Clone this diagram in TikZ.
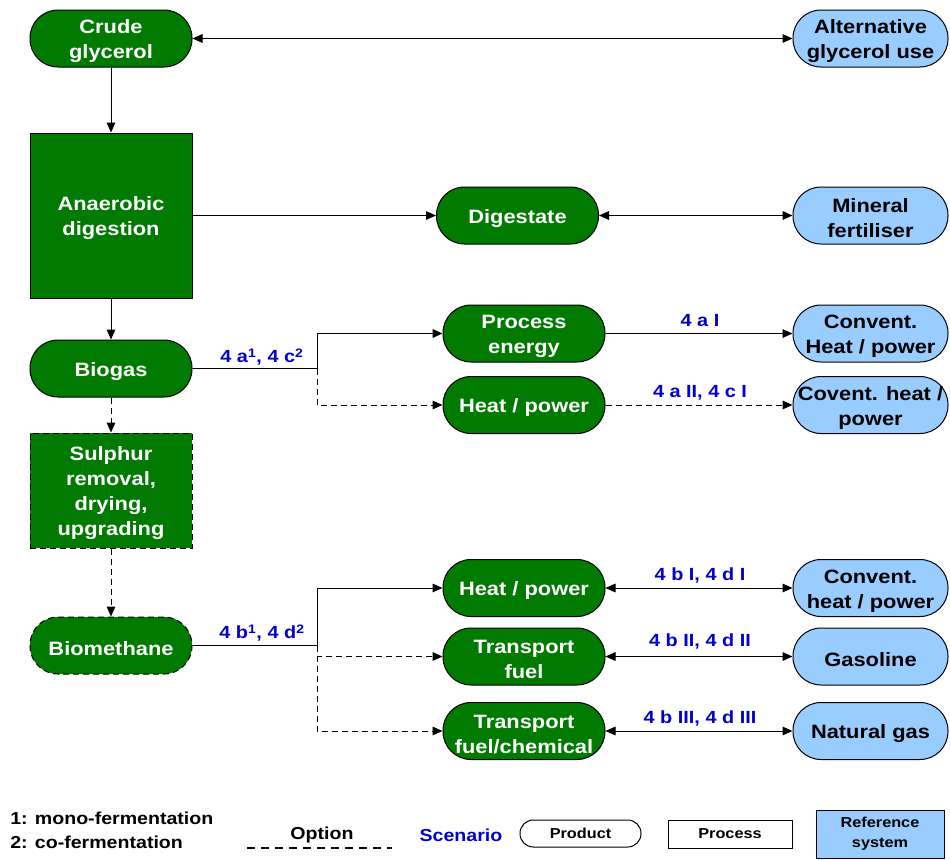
\documentclass[tikz,border=0pt]{standalone}
\usepackage{fontspec}
\setmainfont{Liberation Sans}[FakeStretch=1.13]
\usetikzlibrary{arrows.meta}
\definecolor{procgreen}{RGB}{0,122,0}
\definecolor{refblue}{RGB}{153,204,255}
\definecolor{scenblue}{RGB}{0,0,204}
% extra head room on the first line, so box texts sit slightly lower
\newcommand{\topgap}{\rule{0pt}{15pt}}
\begin{document}
\begin{tikzpicture}[x=0.75pt,y=-0.75pt,
  every node/.style={font=\fontsize{14.5}{18.75}\selectfont\bfseries, align=center, inner sep=0pt},
  prod/.style={draw=black, line width=0.75pt, fill=procgreen, text=white, rounded corners=21pt,
               minimum width=121.5pt, minimum height=42.75pt},
  proc/.style={draw=black, line width=0.75pt, fill=procgreen, text=white, minimum width=121.5pt},
  refs/.style={draw=black, line width=0.75pt, fill=refblue, rounded corners=21pt,
               minimum width=116.25pt, minimum height=42.75pt},
  lab/.style={text=scenblue, font=\fontsize{13.2}{15}\selectfont\bfseries},
  legtxt/.style={font=\fontsize{13}{15}\selectfont\bfseries},
  opt/.style={dash pattern=on 4.5pt off 3pt},
  flow/.style={line width=0.75pt, -{Triangle[length=7.5pt,width=6.5pt]}},
  both/.style={line width=0.75pt, {Triangle[length=7.5pt,width=6.5pt]}-{Triangle[length=7.5pt,width=6.5pt]}}
]
\useasboundingbox (0,0) rectangle (950,860);

% main chain
\node[prod] (crude) at (111,38.5) {\topgap Crude\\glycerol};
\node[refs] (alt) at (870.5,38.5) {\topgap Alternative\\glycerol use};
\node[proc, minimum height=123.75pt] (ad) at (111,215.5) {\topgap Anaerobic\\digestion};
\node[prod] (dig) at (517.5,215.5) {\topgap Digestate};
\node[refs] (min) at (870.5,215.5) {\topgap Mineral\\fertiliser};
\node[prod] (biogas) at (111,368.5) {\topgap Biogas};
\node[prod] (pe) at (524,333.5) {\topgap Process\\energy};
\node[prod] (hp1) at (524,405) {\topgap Heat / power};
\node[refs] (chp1) at (870.5,333.5) {\topgap Convent.\\Heat / power};
\node[refs] (chp2) at (870.5,405) {\topgap Covent. heat /\\power};
\node[proc, opt, minimum height=86.25pt] (sul) at (111,490.5) {\topgap Sulphur\\removal,\\drying,\\upgrading};
\node[prod, opt] (bm) at (111,645.5) {\topgap Biomethane};
\node[prod] (hp2) at (524,588) {\topgap Heat / power};
\node[prod] (tf) at (524,656.5) {\topgap Transport\\fuel};
\node[prod] (tfc) at (524,731) {\topgap Transport\\fuel/chemical};
\node[refs] (chp3) at (870.5,588) {\topgap Convent.\\heat / power};
\node[refs] (gas) at (870.5,656.5) {\topgap Gasoline};
\node[refs] (ng) at (870.5,731) {\topgap Natural gas};

% vertical flow
\draw[flow] (crude) -- (ad);
\draw[flow] (ad) -- (biogas);
\draw[flow, opt] (biogas) -- (sul);
\draw[flow, opt] (sul) -- (bm);

% horizontal links
\draw[both] (crude) -- (alt);
\draw[flow] (ad.east |- dig) -- (dig);
\draw[both] (dig) -- (min);

% biogas branches
\coordinate (bj) at (317,368.5);
\draw[line width=0.75pt] (biogas) -- (bj);
\draw[flow] (bj) |- (pe);
\draw[flow, opt] (bj) |- (hp1);
\node[lab] (la) at (262,357) {4 a\textsuperscript{1}, 4 c\textsuperscript{2}};
\draw[flow] (pe) -- (chp1);
\draw[flow, opt] (hp1) -- (chp2);
\node[lab] (l1) at (700,321) {4 a I};
\node[lab] (l2) at (700,393) {4 a II, 4 c I};

% biomethane branches
\coordinate (mj) at (317,645.5);
\draw[line width=0.75pt] (bm) -- (mj);
\draw[flow] (mj) |- (hp2);
\draw[flow, opt] (mj) |- (tf);
\draw[flow, opt] (mj) |- (tfc);
\node[lab] (lb) at (262,633) {4 b\textsuperscript{1}, 4 d\textsuperscript{2}};
\draw[both] (hp2) -- (chp3);
\draw[both] (tf) -- (gas);
\draw[both] (tfc) -- (ng);
\node[lab] (l3) at (700,575) {4 b I, 4 d I};
\node[lab] (l4) at (700,641) {4 b II, 4 d II};
\node[lab] (l5) at (700,718) {4 b III, 4 d III};

% legend
\node[legtxt, anchor=west] (n1) at (10,818) {1: mono-fermentation};
\node[legtxt, anchor=west] (n2) at (10,842) {2: co-fermentation};
\node[legtxt] (optl) at (322,835) {Option};
\coordinate (oa) at (247,848);
\coordinate (ob) at (392,848);
\draw[line width=1.5pt, dash pattern=on 6pt off 4.5pt] (oa) -- (ob);
\node[legtxt, text=scenblue] (scn) at (461,835) {Scenario};
\node[draw=black, line width=0.75pt, fill=white, rounded corners=10pt, minimum width=90.75pt,
      minimum height=20.25pt, font=\fontsize{10.8}{13}\selectfont\bfseries] (lprod) at (580.5,833.5) {Product};
\node[draw=black, line width=0.75pt, fill=white, minimum width=93pt,
      minimum height=21pt, font=\fontsize{10.8}{13}\selectfont\bfseries] (lproc) at (730,834) {Process};
\node[draw=black, line width=0.75pt, fill=refblue, minimum width=96pt,
      minimum height=36pt, font=\fontsize{10.8}{15}\selectfont\bfseries] (lref) at (880,834) {Reference\\system};
\end{tikzpicture}
\end{document}
